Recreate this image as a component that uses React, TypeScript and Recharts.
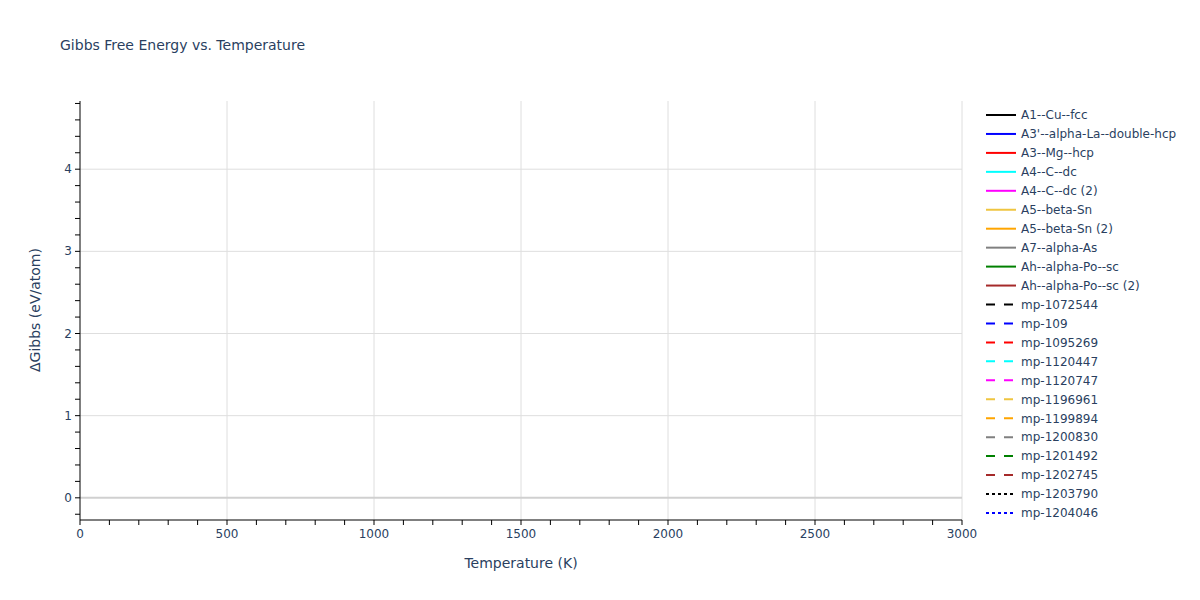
import React from "react";
import { LineChart, Line, XAxis, YAxis, ReferenceLine } from "recharts";

// ---- data ----
const temperatures: number[] = []; // no visible curves in the reference
const xTicks = [0, 100, 200, 300, 400, 500, 600, 700, 800, 900, 1000, 1100, 1200, 1300, 1400, 1500, 1600, 1700, 1800, 1900, 2000, 2100, 2200, 2300, 2400, 2500, 2600, 2700, 2800, 2900, 3000];
const xMajor = [0, 500, 1000, 1500, 2000, 2500, 3000];
const yTicks = [-0.2, 0, 0.2, 0.4, 0.6, 0.8, 1, 1.2, 1.4, 1.6, 1.8, 2, 2.2, 2.4, 2.6, 2.8, 3, 3.2, 3.4, 3.6, 3.8, 4, 4.2, 4.4, 4.6, 4.8];
const yMajor = [0, 1, 2, 3, 4];
const xDomain = [0, 3000];
const yDomain = [-0.27, 4.83];

const seriesNames = [
  "A1--Cu--fcc",
  "A3'--alpha-La--double-hcp",
  "A3--Mg--hcp",
  "A4--C--dc",
  "A4--C--dc (2)",
  "A5--beta-Sn",
  "A5--beta-Sn (2)",
  "A7--alpha-As",
  "Ah--alpha-Po--sc",
  "Ah--alpha-Po--sc (2)",
  "mp-1072544",
  "mp-109",
  "mp-1095269",
  "mp-1120447",
  "mp-1120747",
  "mp-1196961",
  "mp-1199894",
  "mp-1200830",
  "mp-1201492",
  "mp-1202745",
  "mp-1203790",
  "mp-1204046",
];
const seriesColors = [
  "#000000", "#0000ff", "#ff0000", "#00ffff", "#ff00ff", "#efc540", "#ffa500", "#808080", "#008000", "#a52a2a",
  "#000000", "#0000ff", "#ff0000", "#00ffff", "#ff00ff", "#efc540", "#ffa500", "#808080", "#008000", "#a52a2a",
  "#000000", "#0000ff",
];
const seriesDash = [
  "", "", "", "", "", "", "", "", "", "",
  "9 9", "9 9", "9 9", "9 9", "9 9", "9 9", "9 9", "9 9", "9 9", "9 9",
  "3 3", "3 3",
];
// each series: values per temperature (none drawn in the reference)
const seriesValues: number[][] = seriesNames.map(() => []);

const data = temperatures.map((t, i) => {
  const row: Record<string, number> = { T: t };
  seriesNames.forEach((n, k) => {
    row[n] = seriesValues[k][i];
  });
  return row;
});

const FONT = "'DejaVu Sans', Verdana, sans-serif";
const TXT = "#2a3f5f";

const XTick = (props: any) => {
  const { x, y, payload } = props;
  if (!xMajor.includes(payload.value)) return <g />;
  return (
    <text x={x} y={y} dy={11} textAnchor="middle" fontSize={12} fill={TXT} fontFamily={FONT}>
      {payload.value}
    </text>
  );
};

const YTick = (props: any) => {
  const { x, y, payload } = props;
  const v = Math.round(payload.value * 10) / 10;
  if (!yMajor.includes(v)) return <g />;
  return (
    <text x={x - 1} y={y} dy={4} textAnchor="end" fontSize={12} fill={TXT} fontFamily={FONT}>
      {v}
    </text>
  );
};

export default function App() {
  return (
    <div style={{ position: "absolute", left: 0, top: 0, width: 1200, height: 600, background: "#fff" }}>
      <LineChart
        width={1200}
        height={600}
        data={data}
        margin={{ top: 101, right: 238, bottom: 50, left: 20 }}
      >
        <XAxis
          dataKey="T"
          type="number"
          domain={xDomain}
          ticks={xTicks}
          interval={0}
          height={30}
          tickSize={5}
          tickLine={{ stroke: "#000" }}
          axisLine={{ stroke: "#000" }}
          tick={<XTick />}
          allowDataOverflow
        />
        <YAxis
          type="number"
          domain={yDomain}
          ticks={yTicks}
          interval={0}
          width={60}
          tickSize={5}
          tickLine={{ stroke: "#000" }}
          axisLine={{ stroke: "#000" }}
          tick={<YTick />}
          allowDataOverflow
        />
        {xMajor.filter((v) => v > 0).map((v) => (
          <ReferenceLine key={"gx" + v} x={v} stroke="#dedede" strokeWidth={1} />
        ))}
        {yMajor.filter((v) => v !== 0).map((v) => (
          <ReferenceLine key={"gy" + v} y={v} stroke="#dedede" strokeWidth={1} />
        ))}
        <ReferenceLine y={0} stroke="#d0d0d0" strokeWidth={2} />
        {seriesNames.map((n, k) => (
          <Line
            key={n}
            dataKey={n}
            stroke={seriesColors[k]}
            strokeWidth={2}
            strokeDasharray={seriesDash[k] || undefined}
            dot={false}
            isAnimationActive={false}
            connectNulls={false}
          />
        ))}
      </LineChart>
      <svg
        width={1200}
        height={600}
        style={{ position: "absolute", left: 0, top: 0, pointerEvents: "none" }}
      >
        <text x={60} y={50} fontSize={14} fill={TXT} fontFamily={FONT}>
          Gibbs Free Energy vs. Temperature
        </text>
        <text x={521} y={568} fontSize={14} fill={TXT} fontFamily={FONT} textAnchor="middle">
          Temperature (K)
        </text>
        <text
          x={40}
          y={310}
          fontSize={14}
          fill={TXT}
          fontFamily={FONT}
          textAnchor="middle"
          transform="rotate(-90 40 310)"
        >
          ΔGibbs (eV/atom)
        </text>
        {seriesNames.map((n, k) => {
          const y = 115 + k * 18.95;
          return (
            <g key={"lg" + n}>
              <line
                x1={986}
                x2={1016}
                y1={y}
                y2={y}
                stroke={seriesColors[k]}
                strokeWidth={2}
                strokeDasharray={seriesDash[k] || undefined}
              />
              <text x={1021} y={y + 4.3} fontSize={12} fill={TXT} fontFamily={FONT}>
                {n}
              </text>
            </g>
          );
        })}
      </svg>
    </div>
  );
}
